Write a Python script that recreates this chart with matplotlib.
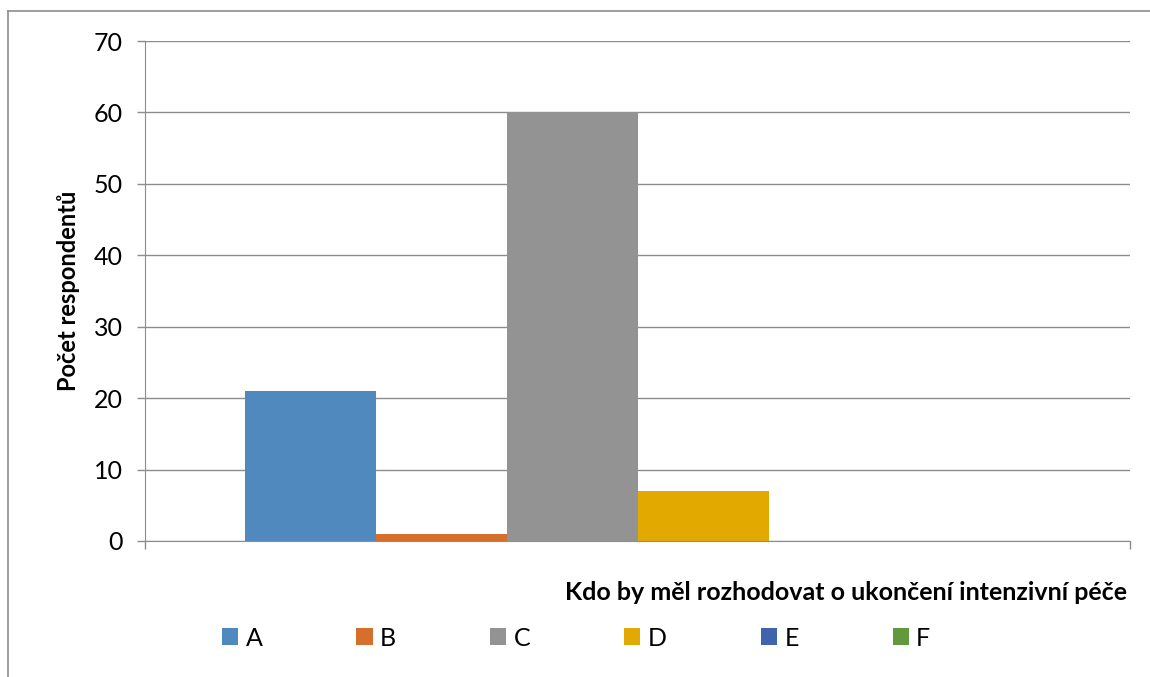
import numpy as np
import matplotlib.pyplot as plt
from matplotlib.patches import Patch
from matplotlib.lines import Line2D

plt.rcParams['font.family'] = ['Lato', 'DejaVu Sans']

# odpovědi respondentů
series = ['A', 'B', 'C', 'D', 'E', 'F']
values = [21, 1, 60, 7, 0, 0]
colors = ['#4f89be', '#d56f2b', '#939393', '#e2aa00', '#3d64ad', '#63993d']

y_ticks = [0, 10, 20, 30, 40, 50, 60, 70]
y_label = 'Počet respondentů'
x_label = 'Kdo by měl rozhodovat o ukončení intenzivní péče'

W, H = 1150, 677
fig = plt.figure(figsize=(W / 100, H / 100), dpi=100)
ax = fig.add_axes([145 / W, 1 - 541 / H, 985 / W, 500 / H])

# jedna kategorie, šest sloupců vedle sebe
bar_w = 131 / 985
offsets = (np.arange(len(series)) - (len(series) - 1) / 2) * bar_w
for off, val, col, name in zip(offsets, values, colors, series):
    ax.bar(off, val, width=bar_w, color=col, label=name, zorder=2)

ax.set_xlim(-0.5, 0.5)
ax.set_ylim(0, 70)
ax.set_yticks(y_ticks)
ax.set_xticks([-0.5, 0.5])
ax.set_xticklabels([])
ax.grid(axis='y', color='#8c8c8c', linewidth=1.0, zorder=0)
for s in ['top', 'right']:
    ax.spines[s].set_visible(False)
for s in ['left', 'bottom']:
    ax.spines[s].set_color('#8c8c8c')
    ax.spines[s].set_zorder(3)
ax.tick_params(axis='both', color='#8c8c8c', length=6, width=1.0, labelsize=18)
ax.tick_params(axis='y', pad=10)

ax.set_ylabel(y_label, fontsize=17, fontweight='bold')
ax.yaxis.set_label_coords((80 - 145) / 985, 0.5)
fig.text(1127 / W, 1 - 592 / H, x_label, ha='right', va='center',
         fontsize=18, fontweight='bold')

handles = [Patch(facecolor=c, edgecolor='none') for c in colors]
fig.legend(handles, series, loc='center left', ncol=6,
           bbox_to_anchor=(212 / W, 1 - 638 / H), frameon=False,
           fontsize=18, handlelength=0.65, handleheight=0.65,
           handletextpad=0.3, columnspacing=3.75, borderaxespad=0)

# rámeček grafu
fig.add_artist(Line2D([8 / W, 8 / W], [0, 1 - 11 / H], color='#8c8c8c', lw=1.2))
fig.add_artist(Line2D([8 / W, 1], [1 - 11 / H, 1 - 11 / H], color='#8c8c8c', lw=1.2))

fig.savefig('out.png', dpi=100)
